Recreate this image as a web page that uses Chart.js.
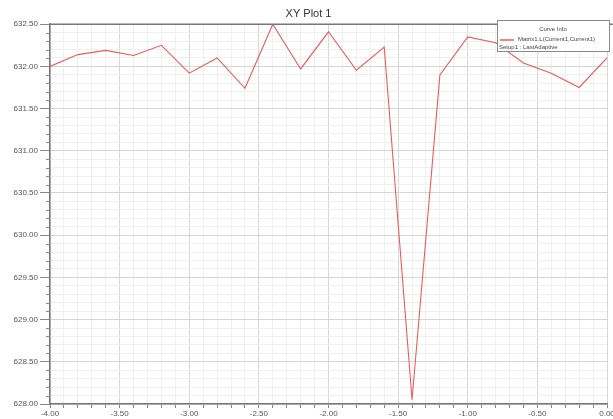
<!DOCTYPE html>
<html>
<head>
<meta charset="utf-8">
<title>XY Plot 1</title>
<script src="https://cdn.jsdelivr.net/npm/chart.js@4/dist/chart.umd.min.js"></script>
<style>
  html, body { margin: 0; padding: 0; background: #ffffff; }
  #wrap { width: 613px; height: 419px; }
</style>
</head>
<body>
<div id="wrap"><canvas id="plot" width="613" height="419"></canvas></div>
<script>
// Sweep positions and inductance values
const xValues = [-4.0, -3.8, -3.6, -3.4, -3.2, -3.0, -2.8, -2.6, -2.4, -2.2, -2.0,
                 -1.8, -1.6, -1.4, -1.2, -1.0, -0.8, -0.6, -0.4, -0.2, 0.0];
const lValues = [632.00, 632.14, 632.19, 632.13, 632.25, 631.92, 632.10, 631.74, 632.50, 631.97, 632.41,
                 631.955, 632.23, 628.05, 631.90, 632.35, 632.28, 632.04, 631.92, 631.75, 632.10];

const curveName = 'Matrix1.L(Current1,Current1)';
const setupName = 'Setup1 : LastAdaptive';
const legendTitle = 'Curve Info';
const plotTitle = 'XY Plot 1';

const xRange = { min: -4.0, max: 0.0, step: 0.1 };
const yRange = { min: 628.0, max: 632.5, step: 0.1 };

const isMajor = v => Math.abs(v * 2 - Math.round(v * 2)) < 1e-6;
const FONT = "'Liberation Sans', Arial, sans-serif";

// Frame line on top, short minor ticks on the y axis, and the boxed curve legend
const decorations = {
  id: 'decorations',
  afterDraw(chart) {
    const { ctx, chartArea } = chart;
    const ys = chart.scales.y;
    ctx.save();
    ctx.strokeStyle = '#777777';
    ctx.lineWidth = 1.5;
    ctx.beginPath();
    ctx.moveTo(chartArea.left, chartArea.top);
    ctx.lineTo(chart.width, chartArea.top);
    ctx.stroke();

    ctx.lineWidth = 1;
    ctx.strokeStyle = '#888888';
    ys.ticks.forEach(t => {
      if (!isMajor(t.value)) {
        const py = Math.round(ys.getPixelForValue(t.value)) + 0.5;
        ctx.beginPath();
        ctx.moveTo(chartArea.left - 4, py);
        ctx.lineTo(chartArea.left, py);
        ctx.stroke();
      }
    });

    // legend box
    const bx = 497, by = 20, bw = 112, bh = 31;
    ctx.fillStyle = '#ffffff';
    ctx.fillRect(bx, by, bw, bh);
    ctx.strokeStyle = '#8a8a8a';
    ctx.strokeRect(bx + 0.5, by + 0.5, bw, bh);

    ctx.fillStyle = '#444444';
    ctx.font = '6px ' + FONT;
    ctx.textBaseline = 'middle';
    ctx.textAlign = 'center';
    ctx.fillText(legendTitle, bx + bw / 2, by + 9);

    const ds = chart.data.datasets[0];
    ctx.strokeStyle = ds.borderColor;
    ctx.lineWidth = 1.5;
    ctx.beginPath();
    ctx.moveTo(bx + 3, by + 20);
    ctx.lineTo(bx + 17, by + 20);
    ctx.stroke();

    ctx.textAlign = 'left';
    ctx.fillText(ds.label, bx + 21, by + 19.5);
    ctx.fillText(setupName, bx + 2, by + 27);
    ctx.restore();
  }
};

new Chart(document.getElementById('plot'), {
  type: 'line',
  data: {
    datasets: [{
      label: curveName,
      data: xValues.map((x, i) => ({ x: x, y: lValues[i] })),
      borderColor: 'rgb(234, 92, 92)',
      borderWidth: 1.1,
      pointRadius: 0,
      fill: false,
      tension: 0
    }]
  },
  options: {
    responsive: false,
    animation: false,
    layout: { padding: { left: 10, right: 6, top: 0, bottom: 0 } },
    plugins: {
      legend: { display: false },
      tooltip: { enabled: false },
      title: {
        display: true,
        text: plotTitle,
        color: '#333333',
        font: { family: FONT, size: 11, weight: 'normal' },
        padding: { top: 7, bottom: 4 }
      }
    },
    scales: {
      x: {
        type: 'linear',
        min: xRange.min,
        max: xRange.max,
        afterFit(s) { s.height = 15; s.paddingLeft = 0; s.paddingRight = 0; },
        border: { color: '#777777', width: 1.5 },
        grid: {
          color: c => isMajor(c.tick.value) ? '#d6d6d6' : '#efefef',
          tickColor: '#888888',
          tickLength: 4,
          lineWidth: 1
        },
        ticks: {
          stepSize: xRange.step,
          autoSkip: false,
          maxRotation: 0,
          minRotation: 0,
          padding: 1,
          color: '#555555',
          font: { family: FONT, size: 8 },
          callback: v => isMajor(v) ? v.toFixed(2) : ''
        }
      },
      y: {
        type: 'linear',
        min: yRange.min,
        max: yRange.max,
        afterFit(s) { s.width = 40; s.paddingTop = 0; s.paddingBottom = 0; },
        border: { color: '#777777', width: 1.5 },
        grid: {
          color: c => isMajor(c.tick.value) ? '#d6d6d6' : '#efefef',
          tickColor: c => isMajor(c.tick.value) ? '#888888' : 'rgba(0,0,0,0)',
          tickLength: 10,
          lineWidth: 1
        },
        ticks: {
          stepSize: yRange.step,
          autoSkip: false,
          padding: 2,
          color: '#555555',
          font: { family: FONT, size: 8 },
          callback: v => isMajor(v) ? v.toFixed(2) : ''
        }
      }
    }
  },
  plugins: [decorations]
});
</script>
</body>
</html>
